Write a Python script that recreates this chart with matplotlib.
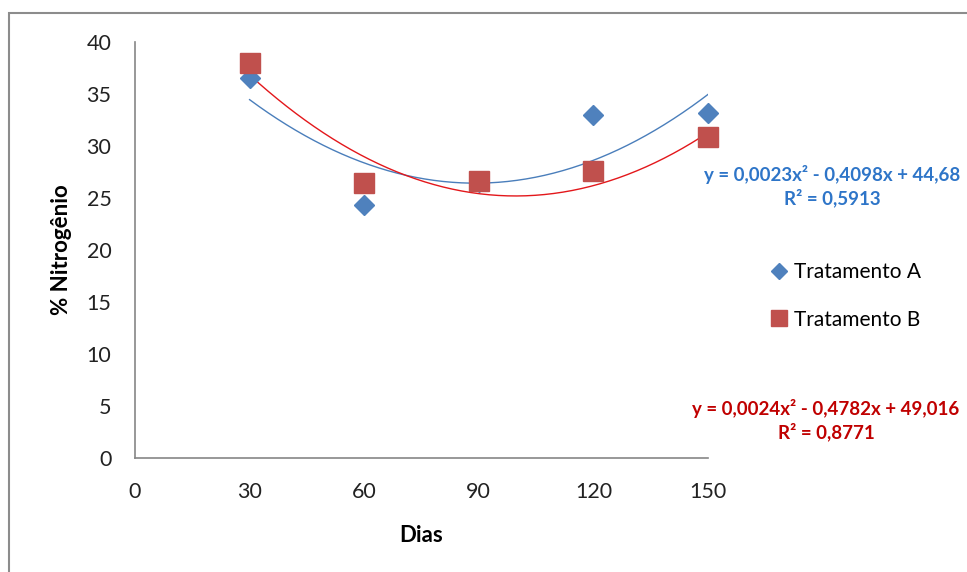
import matplotlib.pyplot as plt
import numpy as np
from matplotlib.lines import Line2D
from matplotlib.patches import Rectangle

plt.rcParams['font.family'] = ['Lato', 'DejaVu Sans']

dias = [30, 60, 90, 120, 150]
trat_a = [36.5, 24.3, 26.5, 33.0, 33.2]
trat_b = [38.0, 26.4, 26.6, 27.6, 30.9]

# coeficientes das linhas de tendência (polinomial de ordem 2)
coef_a = [0.0023, -0.4098, 44.68]
coef_b = [0.0024, -0.4782, 49.016]
r2_a = 0.5913
r2_b = 0.8771

cor_a = '#4F81BD'
cor_b = '#C0504D'

fig = plt.figure(figsize=(9.67, 5.72), dpi=100)
ax = fig.add_axes([135 / 967, 114 / 572, 573 / 967, 416 / 572])

# moldura do gráfico
fig.patches.append(Rectangle((9 / 967, -0.05), 1.2, 1 - 13 / 572 + 0.05,
                             transform=fig.transFigure, fill=False,
                             edgecolor='#8c8c8c', linewidth=1.5))

xs = np.linspace(30, 150, 200)
ax.plot(xs, np.polyval(coef_a, xs), color='#4A7EBB', lw=1.0, zorder=3)
ax.plot(xs, np.polyval(coef_b, xs), color='#E3171B', lw=1.0, zorder=3)

ax.plot(dias, trat_a, 'D', color=cor_a, ms=10.5, mec=cor_a, zorder=4, clip_on=False)
ax.plot(dias, trat_b, 's', color=cor_b, ms=15, mec=cor_b, zorder=5, clip_on=False)

ax.set_xlim(0, 150)
ax.set_ylim(0, 40)
ax.set_xticks([0, 30, 60, 90, 120, 150])
ax.set_yticks(range(0, 41, 5))
ax.tick_params(length=0, labelsize=15.5, pad=17, labelcolor='#222222')
for s in ['top', 'right']:
    ax.spines[s].set_visible(False)
for s in ['left', 'bottom']:
    ax.spines[s].set_color('#868686')
    ax.spines[s].set_linewidth(1.2)

ax.set_xlabel('Dias', fontsize=16, fontweight='bold', labelpad=17)
ax.set_ylabel('% Nitrogênio', fontsize=16, fontweight='bold', labelpad=10)

handles = [
    Line2D([], [], marker='D', ls='none', color=cor_a, ms=8),
    Line2D([], [], marker='s', ls='none', color=cor_b, ms=12),
]
fig.legend(handles, ['Tratamento A', 'Tratamento B'],
           loc='center left', bbox_to_anchor=(752 / 967, 1 - 296 / 572),
           frameon=False, fontsize=15, handlelength=0.8, handletextpad=0.3,
           labelspacing=1.3)

fig.text(832 / 967, 1 - 175 / 572, 'y = 0,0023x² - 0,4098x + 44,68',
         color='#2E75C8', fontsize=13.5, fontweight='bold', ha='center', va='center')
fig.text(832 / 967, 1 - 198 / 572, f'R² = {r2_a:.4f}'.replace('.', ','),
         color='#2E75C8', fontsize=13.5, fontweight='bold', ha='center', va='center')
fig.text(826 / 967, 1 - 408 / 572, 'y = 0,0024x² - 0,4782x + 49,016',
         color='#C00000', fontsize=13.5, fontweight='bold', ha='center', va='center')
fig.text(826 / 967, 1 - 432 / 572, f'R² = {r2_b:.4f}'.replace('.', ','),
         color='#C00000', fontsize=13.5, fontweight='bold', ha='center', va='center')

fig.savefig('out.png', dpi=100)
